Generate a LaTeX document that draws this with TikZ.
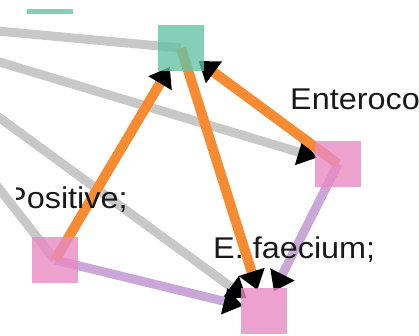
\documentclass[tikz,border=0pt]{standalone}
\usepackage{fontspec}
\setmainfont{Liberation Sans}
\newfontfamily\labfont[FakeStretch=1.08]{Liberation Sans}
\usetikzlibrary{arrows.meta}
\definecolor{tealc}{HTML}{66C2A5}
\definecolor{pinkc}{HTML}{E78AC3}
\definecolor{orangec}{HTML}{F68B32}
\definecolor{grayc}{HTML}{C8C8C8}
\definecolor{purplec}{HTML}{C9A8D9}
\pgfdeclarelayer{bg}
\pgfsetlayers{bg,main}
\tikzset{
  sq/.style={rectangle, minimum size=46pt, inner sep=0pt, fill opacity=0.8},
  tealsq/.style={sq, fill=tealc},
  pinksq/.style={sq, fill=pinkc},
  lab/.style={inner sep=0pt, font=\labfont\fontsize{30}{31}\selectfont, text=black!90},
  link/.style={line width=9pt},
  tip/.style={-{Triangle[length=19pt,width=26pt,color=black]}, shorten >=22pt},
  grayln/.style={link, draw=grayc},
  orangeln/.style={link, line width=10pt, draw=orangec},
  purpleln/.style={link, draw=purplec}
}
\begin{document}
\begin{tikzpicture}[x=1pt,y=-1pt]
\useasboundingbox (0,0) rectangle (419,336);
\clip (16,10) rectangle (419,336);
% nodes
\node[tealsq] (t0) at (50,-9) {};
\node[tealsq] (t1) at (181,48) {};
\node[pinksq] (rp) at (338,164) {};
\node[pinksq] (lp) at (55,260) {};
\node[pinksq] (bp) at (264,311) {};
\coordinate (s1) at (-100,22);
\coordinate (s2) at (-100,32);
\coordinate (s3) at (-100,45);
\coordinate (s4) at (-60,113);
% labels
\node[lab, anchor=base west] (l1) at (290,110) {Enteroco};
\node[lab, anchor=base west] (l2) at (5,208) {Positive;};
\node[lab, anchor=base west] (l3) at (213,258) {E. faecium;};
% links
\begin{pgfonlayer}{bg}
\draw[grayln] (s1) -- (t1.center);
\draw[grayln] (s4) -- (lp.center);
\draw[grayln, tip] (s2) -- (rp.center);
\draw[grayln, tip] (s3) -- (bp.center);
\draw[purpleln, tip] (rp.center) -- (bp.center);
\draw[purpleln, tip] (lp.center) -- (bp.center);
\draw[orangeln, tip] (lp.center) -- (t1.center);
\draw[orangeln, tip] (t1.center) -- (bp.center);
\draw[orangeln, tip] (rp.center) -- (t1.center);
\end{pgfonlayer}
\end{tikzpicture}
\end{document}
